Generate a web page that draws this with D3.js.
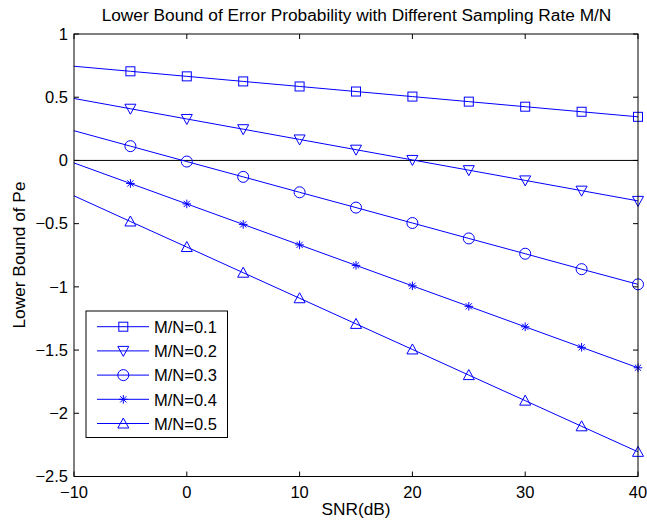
<!DOCTYPE html>
<html><head><meta charset="utf-8">
<script src="https://cdn.jsdelivr.net/npm/d3@7"></script>
<style>body{margin:0;background:#fff;} svg{display:block;font-family:"Liberation Sans",Arial,sans-serif;}</style>
</head><body>
<svg id="c" width="647" height="523"></svg>
<script>
const snr = [-10,-5,0,5,10,15,20,25,30,35,40];
const s01 = [0.745,0.705,0.665,0.625,0.585,0.545,0.505,0.465,0.425,0.385,0.345];
const s02 = [0.49,0.409,0.328,0.247,0.166,0.085,0.004,-0.077,-0.158,-0.239,-0.32];
const s03 = [0.235,0.113,-0.009,-0.13,-0.252,-0.373,-0.495,-0.617,-0.738,-0.86,-0.98];
const s04 = [-0.02,-0.182,-0.344,-0.506,-0.668,-0.83,-0.992,-1.154,-1.316,-1.478,-1.64];
const s05 = [-0.28,-0.483,-0.685,-0.888,-1.09,-1.293,-1.495,-1.698,-1.9,-2.103,-2.305];
const seriesNames = ["M/N=0.1","M/N=0.2","M/N=0.3","M/N=0.4","M/N=0.5"];
const markers = ["square","tridown","circle","star","triup"];
const xTicks = [-10,0,10,20,30,40];
const yTicks = [1,0.5,0,-0.5,-1,-1.5,-2,-2.5];
const series = [s01,s02,s03,s04,s05];

const svg = d3.select("#c");
const L=74,R=638,T=34,B=476.5;
const x = d3.scaleLinear().domain([-10,40]).range([L,R]);
const y = d3.scaleLinear().domain([-2.5,1]).range([B,T]);
const fmt = v => String(v).replace("-","\u2212");
const blue="#0000ff";

// zero line
svg.append("line").attr("x1",L).attr("x2",R).attr("y1",y(0)).attr("y2",y(0)).attr("stroke","#000").attr("stroke-width",1);

// series
const line = d3.line().x((d,i)=>x(snr[i])).y(d=>y(d));
function drawMarker(g,type,cx,cy){
  if(type==="square") g.append("rect").attr("x",cx-4.5).attr("y",cy-4.5).attr("width",9).attr("height",9);
  else if(type==="circle") g.append("circle").attr("cx",cx).attr("cy",cy).attr("r",5.5);
  else if(type==="tridown") g.append("path").attr("d",`M${cx-5.5},${cy-4.5}L${cx+5.5},${cy-4.5}L${cx},${cy+5.5}Z`);
  else if(type==="triup") g.append("path").attr("d",`M${cx-5.5},${cy+4.5}L${cx+5.5},${cy+4.5}L${cx},${cy-5.5}Z`);
  else if(type==="star"){
    const r=4.3;
    let d=`M${cx-r},${cy}L${cx+r},${cy}M${cx},${cy-r}L${cx},${cy+r}`;
    const a=r*0.72;
    d+=`M${cx-a},${cy-a}L${cx+a},${cy+a}M${cx-a},${cy+a}L${cx+a},${cy-a}`;
    g.append("path").attr("d",d);
  }
}
series.forEach((s,k)=>{
  svg.append("path").datum(s).attr("d",line).attr("fill","none").attr("stroke",blue).attr("stroke-width",1);
  const g=svg.append("g").attr("fill","none").attr("stroke",blue).attr("stroke-width",1);
  s.forEach((v,i)=>{ if(i>0) drawMarker(g,markers[k],x(snr[i]),y(v)); });
});

// axes box and ticks
const ax = svg.append("g").attr("stroke","#000").attr("stroke-width",1).attr("fill","none");
ax.append("rect").attr("x",L).attr("y",T).attr("width",R-L).attr("height",B-T);
xTicks.forEach(t=>{
  ax.append("line").attr("x1",x(t)).attr("x2",x(t)).attr("y1",B).attr("y2",B-5);
  ax.append("line").attr("x1",x(t)).attr("x2",x(t)).attr("y1",T).attr("y2",T+5);
  svg.append("text").attr("x",x(t)).attr("y",B+21.5).attr("text-anchor","middle").attr("font-size",16.5).text(fmt(t));
});
yTicks.forEach(t=>{
  ax.append("line").attr("x1",L).attr("x2",L+5).attr("y1",y(t)).attr("y2",y(t));
  ax.append("line").attr("x1",R).attr("x2",R-5).attr("y1",y(t)).attr("y2",y(t));
  svg.append("text").attr("x",L-6).attr("y",y(t)+5.8).attr("text-anchor","end").attr("font-size",16.5).text(fmt(t));
});

// labels
svg.append("text").attr("x",356.5).attr("y",21).attr("text-anchor","middle").attr("font-size",17.3).text("Lower Bound of Error Probability with Different Sampling Rate M/N");
svg.append("text").attr("x",356).attr("y",515).attr("text-anchor","middle").attr("font-size",17.3).text("SNR(dB)");
svg.append("text").attr("transform","translate(25,255) rotate(-90)").attr("text-anchor","middle").attr("font-size",17.3).text("Lower Bound of Pe");

// legend
const lg = svg.append("g");
lg.append("rect").attr("x",86).attr("y",311).attr("width",141.5).attr("height",126.5).attr("fill","#fff").attr("stroke","#000").attr("stroke-width",1);
seriesNames.forEach((n,k)=>{
  const yy = 326.7 + k*24.2;
  lg.append("line").attr("x1",97).attr("x2",149).attr("y1",yy).attr("y2",yy).attr("stroke",blue).attr("stroke-width",1);
  const g=lg.append("g").attr("fill","none").attr("stroke",blue).attr("stroke-width",1);
  drawMarker(g,markers[k],123.3,yy);
  lg.append("text").attr("x",154).attr("y",yy+6.3).attr("font-size",16.5).text(n);
});
</script>
</body></html>
